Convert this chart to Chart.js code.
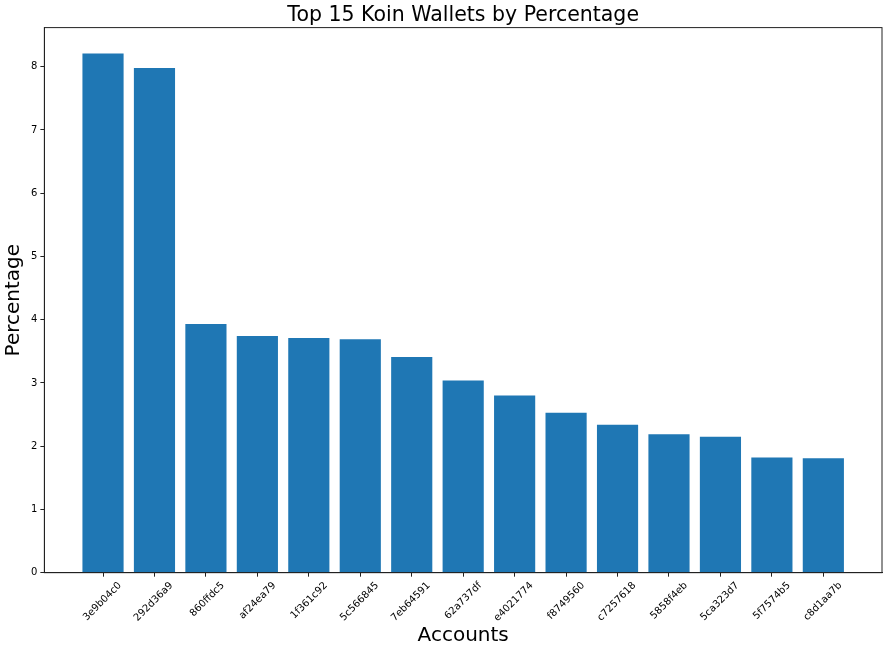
<!DOCTYPE html>
<html>
<head>
<meta charset="utf-8">
<script src="https://cdn.jsdelivr.net/npm/chart.js@4"></script>
<style>
  html, body { margin: 0; padding: 0; background: #fff; }
  #wrap { width: 887px; height: 651px; }
</style>
</head>
<body>
<div id="wrap"><canvas id="walletChart"></canvas></div>
<script>
const accounts = ['3e9b04c0', '292d36a9', '860ffdc5', 'af24ea79', '1f361c92', '5c566845', '7eb64591',
    '62a737df', 'e4021774', 'f8749560', 'c7257618', '5858f4eb', '5ca323d7', '5f7574b5', 'c8d1aa7b'];
const percentages = [8.21, 7.98, 3.93, 3.74, 3.71, 3.69, 3.41, 3.04, 2.80, 2.53, 2.34, 2.19, 2.15, 1.82, 1.81];
const yTicks = [0, 1, 2, 3, 4, 5, 6, 7, 8];

const font = 'DejaVu Sans';

// matplotlib draws a closed box round the axes
const frameBox = {
    id: 'frameBox',
    afterDraw(chart) {
        const a = chart.chartArea;
        const c = chart.ctx;
        c.save();
        c.strokeStyle = '#222';
        c.lineWidth = 1;
        c.strokeRect(a.left, a.top, a.right - a.left, a.bottom - a.top);
        c.restore();
    }
};

function loadChart() {
    const ctx = document.getElementById('walletChart').getContext('2d');
    new Chart(ctx, {
        type: 'bar',
        data: {
            datasets: [{
                data: percentages.map((p, i) => ({ x: i, y: p })),
                backgroundColor: '#1f77b4',
                borderWidth: 0,
                categoryPercentage: 1,
                barPercentage: 0.8
            }]
        },
        options: {
            responsive: true,
            maintainAspectRatio: false,
            animation: false,
            layout: { padding: { left: 2, right: 5, top: 3, bottom: 0 } },
            plugins: {
                legend: { display: false },
                tooltip: { enabled: false },
                title: {
                    display: true,
                    fullSize: false,
                    text: 'Top 15 Koin Wallets by Percentage',
                    color: '#000',
                    font: { family: font, size: 20.5, weight: 'normal' },
                    padding: { top: 0, bottom: 0 }
                }
            },
            scales: {
                x: {
                    type: 'linear',
                    min: -1.14,
                    max: 15.14,
                    offset: false,
                    grid: { display: true, offset: false, drawOnChartArea: false, color: '#222', tickLength: 4 },
                    border: { color: '#222' },
                    afterBuildTicks: axis => { axis.ticks = accounts.map((a, i) => ({ value: i })); },
                    ticks: {
                        autoSkip: false,
                        maxRotation: 45,
                        minRotation: 45,
                        color: '#000',
                        padding: 3,
                        labelOffset: 17,
                        font: { family: font, size: 10 },
                        callback: v => accounts[v]
                    },
                    title: {
                        display: true,
                        text: 'Accounts',
                        color: '#000',
                        font: { family: font, size: 20 },
                        padding: { top: -3, bottom: 3 }
                    }
                },
                y: {
                    min: 0,
                    max: 8.618,
                    grid: { display: true, drawOnChartArea: false, color: '#222', tickLength: 4 },
                    border: { color: '#222' },
                    afterBuildTicks: axis => { axis.ticks = yTicks.map(v => ({ value: v })); },
                    ticks: {
                        color: '#000',
                        padding: 3,
                        font: { family: font, size: 10 }
                    },
                    title: {
                        display: true,
                        text: 'Percentage',
                        color: '#000',
                        font: { family: font, size: 20 },
                        padding: { top: 0, bottom: 2 }
                    }
                }
            }
        },
        plugins: [frameBox]
    });
}

document.addEventListener('DOMContentLoaded', loadChart);
</script>
</body>
</html>
